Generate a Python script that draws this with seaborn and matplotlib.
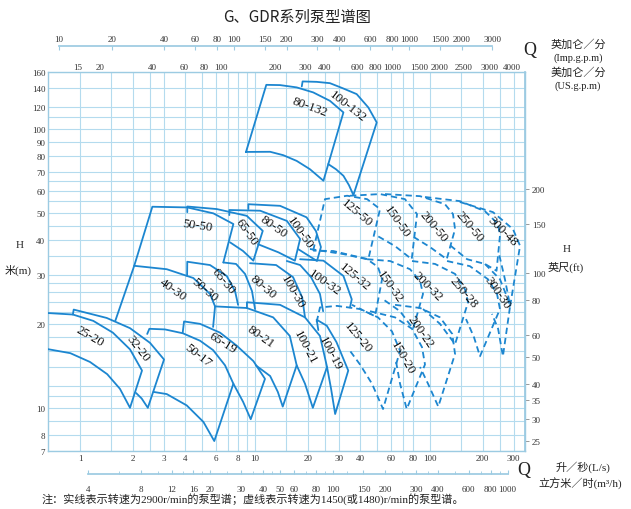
"""
G、GDR pump family chart (2900 rpm solid, 1450 rpm dashed)
Log-log H vs Q with the extra flow / head scales drawn as secondary axes.
"""

import pandas as pd
import matplotlib.pyplot as plt
import seaborn as sns
from matplotlib.ticker import FixedLocator, NullLocator, FuncFormatter, NullFormatter, FixedFormatter

# ---------------- axis scales ----------------
h_ticks = [7, 8, 10, 20, 30, 40, 50, 60, 70, 80, 90, 100, 120, 140, 160]
h_grid = [7, 8, 9, 10, 11, 12, 14, 16, 18, 20, 22, 24, 26, 28, 30, 35, 40, 45,
          50, 55, 60, 65, 70, 80, 90, 100, 110, 120, 140, 160]
q_ls_ticks = [1, 2, 3, 4, 6, 8, 10, 20, 30, 40, 60, 80, 100, 200, 300]
q_grid = [1, 1.5, 2, 2.5, 3, 4, 5, 6, 7, 8, 9, 10, 15, 20, 25, 30, 40, 50, 60,
          70, 80, 100, 150, 200, 250, 300]
q_m3h_ticks = [4, 8, 12, 16, 20, 30, 40, 50, 60, 80, 100, 150, 200, 300, 400,
               600, 800, 1000]
q_m3h_minor = [6, 10, 14, 18, 25, 35, 45, 70, 90, 120, 250, 350, 500, 700, 900]
q_imp_ticks = [10, 20, 40, 60, 80, 100, 150, 200, 300, 400, 600, 800, 1000,
               1500, 2000, 3000]
# US gallon row: labels and where the chart prints them (in L/s)
us_labels = ['15', '20', '40', '60', '80', '100', '200', '300', '400', '600', '800',
             '1000', '1500', '2000', '2500', '3000', '4000']
us_label_at_ls = [0.974, 1.30, 2.58, 3.93, 5.11, 6.39, 13.0, 19.3, 25.1, 38.3, 48.5,
                  60.6, 86.5, 114, 156.4, 220, 294]
h_ft_ticks = [25, 30, 35, 40, 50, 60, 80, 100, 150, 200]

# ---------------- pump outlines (Q in L/s, H in m) ----------------
# 2900 r/min
P_25_20 = [(0.63, 21.9), (0.91, 21.6), (1.19, 20.5), (1.54, 18.6), (1.93, 16.2), (2.26, 13.6),
           (1.93, 10.0), (1.69, 11.7), (1.43, 13.2), (1.14, 14.6), (0.88, 15.7), (0.63, 16.3)]
P_32_20 = [(0.91, 21.6), (0.92, 22.5), (1.42, 21.0), (1.93, 19.3), (2.51, 17.1), (3.02, 14.9),
           (2.44, 10.0), (2.25, 10.8), (2.09, 11.3)]
P_50_17 = [(2.42, 18.4), (2.49, 19.2), (3.06, 19.1), (3.87, 18.5), (4.85, 17.4), (5.76, 16.1),
           (6.74, 14.2), (7.52, 12.2), (5.85, 7.6), (5.07, 8.9), (4.07, 10.2), (3.13, 11.2), (2.63, 11.4)]
P_65_19 = [(3.86, 18.6), (3.93, 20.4), (4.85, 20.0), (6.31, 18.6), (7.86, 16.7), (9.79, 14.7),
           (11.4, 12.7), (9.45, 9.1), (8.55, 10.5), (7.52, 12.2)]
P_80_21 = [(5.76, 19.5), (5.91, 23.1), (8.97, 22.8), (12.7, 21.1), (15.8, 18.1), (17.3, 14.2),
           (14.4, 10.1), (13.5, 11.4), (12.2, 13.0), (10.1, 14.2)]
P_100_21 = [(8.99, 22.8), (8.99, 23.9), (13.9, 23.4), (19.3, 21.1), (23.5, 18.1), (25.8, 14.0),
            (21.4, 10.0), (19.3, 12.2), (17.3, 14.2)]
P_100_19 = [(23.0, 19.0), (22.5, 20.7), (25.7, 19.7), (29.2, 17.2), (34.1, 13.6), (28.7, 9.5),
            (27.2, 11.7), (25.8, 14.0)]
P_40_30 = [(2.04, 32.3), (3.13, 31.4), (4.44, 29.2), (5.53, 25.6), (5.91, 23.1)]
P_50_30 = [(4.09, 29.7), (4.10, 33.4), (5.53, 32.5), (6.89, 29.7), (7.69, 26.2), (8.0, 23.4)]
P_65_30 = [(6.59, 33.2), (7.79, 32.8), (8.77, 30.2), (9.61, 26.2), (10.0, 22.6)]
P_80_30 = [(9.36, 33.0), (13.2, 32.5), (16.5, 29.4), (18.6, 24.9), (19.3, 21.1)]
P_100_30 = [(15.2, 33.6), (18.1, 32.5), (20.9, 29.4), (23.5, 25.6), (24.5, 22.2)]
P_100_32 = [(18.1, 34.1), (24.6, 33.7), (32.0, 29.7), (35.7, 24.5), (34.9, 22.9)]
P_50_50 = [(1.59, 20.5), (2.04, 32.3), (2.59, 52.6), (4.10, 52.3), (5.78, 49.8), (7.52, 45.6),
           (6.59, 33.2)]
P_65_50 = [(4.10, 50.3), (4.10, 52.7), (6.04, 51.6), (8.97, 48.8), (11.07, 43.1), (9.78, 33.7),
           (8.54, 36.5), (7.20, 39.2)]
P_80_50 = [(7.13, 49.1), (7.13, 51.2), (10.7, 50.9), (15.2, 46.8), (18.1, 40.3), (16.9, 33.7),
           (13.6, 36.1), (10.4, 38.6)]
P_100_50 = [(9.16, 51.6), (9.16, 53.7), (13.9, 53.0), (19.7, 48.2), (22.3, 43.0), (23.8, 37.7),
            (22.6, 33.6), (17.6, 37.1)]
P_80_132 = [(8.88, 82.7), (11.6, 143.9), (13.9, 143.6), (17.3, 140.9), (21.5, 135.2), (26.8, 126.1),
            (32.0, 114.6), (24.6, 65.2), (20.6, 71.7), (17.3, 76.8), (14.5, 80.5), (12.2, 82.8),
            (8.88, 82.7)]
P_100_132 = [(18.5, 142.0), (18.7, 148.0), (22.5, 147.5), (26.8, 145.9), (32.0, 139.6),
             (38.1, 133.3), (44.4, 119.4), (49.6, 105.5), (36.5, 57.9), (34.4, 62.9),
             (32.0, 67.9), (29.0, 71.7), (26.2, 74.8)]

# 1450 r/min
P_125_50 = [(21.5, 36.6), (25.1, 56.0), (33.6, 57.6), (43.7, 56.0), (51.8, 51.6), (44.4, 34.1),
            (34.9, 35.3), (28.0, 36.5), (21.5, 36.6)]
P_150_50 = [(34.9, 57.6), (51.8, 58.4), (71.9, 56.0), (84.3, 49.5), (78.6, 34.1), (63.1, 38.0),
            (47.9, 42.0)]
P_200_50 = [(55.3, 58.4), (87.7, 57.4), (121.8, 53.7), (135.3, 49.5), (139.0, 43.7), (124.6, 34.1),
            (100.0, 37.7), (81.0, 40.9)]
P_250_50 = [(93.6, 57.0), (148, 55.1), (206, 50.7), (245, 45.6), (251, 41.4), (240, 31.0),
            (206, 32.8), (163, 34.1), (128, 38.6)]
P_300_48 = [(148, 54.7), (229, 50.3), (298, 43.7), (327, 38.1), (287, 23.2), (268, 28.9),
            (248, 35.6)]
P_125_32 = [(20.6, 37.1), (31.8, 35.6), (43.7, 34.1), (50.4, 32.0), (53.2, 28.9), (48.5, 21.3),
            (42.5, 22.2), (35.8, 23.4)]
P_150_32 = [(43.7, 34.1), (59.1, 33.6), (76.9, 31.4), (87.7, 28.5), (91.2, 25.6), (80.0, 19.2),
            (67.4, 22.2), (53.9, 24.5)]
P_200_32 = [(78.9, 33.6), (106.8, 32.8), (139.0, 30.2), (158.5, 26.6), (164.9, 23.9), (139.0, 16.9),
            (114, 20.0), (91.2, 22.6)]
P_250_28 = [(125.1, 33.6), (169, 32.2), (214.5, 28.9), (241.5, 25.6), (251, 22.6), (193, 15.3),
            (178.4, 17.9), (160.6, 20.8)]
P_300_30 = [(206, 32.8), (251, 28.9), (279, 24.5), (287, 23.2), (261, 15.3), (245, 19.2),
            (226, 21.7)]
P_125_20 = [(22.5, 20.3), (23.5, 22.9), (29.4, 23.2), (39.8, 22.6), (50.4, 21.1), (60.6, 18.8),
            (67.4, 16.0), (53.9, 9.9), (46.6, 12.2), (39.8, 14.3), (34.9, 16.0)]
P_150_20 = [(45.4, 22.2), (63.1, 21.1), (78.9, 19.2), (90.0, 16.5), (93.6, 14.3), (73.6, 9.9),
            (67.4, 12.2), (63.9, 14.7)]
P_200_22 = [(63.1, 23.4), (87.7, 22.8), (114, 21.1), (134, 18.4), (139, 15.6), (111.5, 10.1),
            (97.4, 12.2), (87.7, 14.0)]

# model name, outline, label Q, label H, label angle
pumps_2900 = [
    ('25-20', P_25_20, 1.14, 18.1, -30), ('32-20', P_32_20, 2.14, 16.4, -52),
    ('50-17', P_50_17, 4.72, 15.5, -38), ('65-19', P_65_19, 6.56, 17.2, -32),
    ('80-21', P_80_21, 10.7, 18.1, -35), ('100-21', P_100_21, 19.3, 16.6, -62),
    ('100-19', P_100_19, 26.8, 15.8, -62), ('40-30', P_40_30, 3.40, 26.6, -35),
    ('50-30', P_50_30, 5.18, 26.6, -40), ('65-30', P_65_30, 6.56, 28.5, -50),
    ('80-30', P_80_30, 11.1, 27.3, -40), ('100-30', P_100_30, 16.5, 26.2, -60),
    ('100-32', P_100_32, 25.1, 28.2, -35), ('50-50', P_50_50, 4.72, 45.2, -8),
    ('65-50', P_65_50, 9.0, 43.0, -55), ('80-50', P_80_50, 12.7, 44.8, -35),
    ('100-50', P_100_50, 18.1, 42.7, -55), ('80-132', P_80_132, 20.6, 120.7, -20),
    ('100-132', P_100_132, 34.0, 120.7, -38),
]
pumps_1450 = [
    ('125-50', P_125_50, 38.3, 50.3, -40), ('150-50', P_150_50, 64.8, 46.7, -55),
    ('200-50', P_200_50, 104, 44.8, -50), ('250-50', P_250_50, 169, 44.8, -50),
    ('300-48', P_300_48, 261, 43.0, -45), ('125-32', P_125_32, 37.3, 29.7, -40),
    ('150-32', P_150_32, 59.1, 27.3, -55), ('200-32', P_200_32, 96.1, 27.3, -45),
    ('250-28', P_250_28, 154.4, 26.0, -50), ('300-30', P_300_30, 241, 26.0, -55),
    ('125-20', P_125_20, 38.8, 17.9, -50), ('150-20', P_150_20, 70.1, 15.2, -60),
    ('200-22', P_200_22, 87.7, 18.8, -55),
]

LS_TO_M3H = 3.6
LS_TO_IMP = 13.198
M_TO_FT = 3.2808

BLUE = '#1c86d0'
GRID = '#b4dbee'
SPINE = '#9ccbe2'
TXT = '#333333'
TICK_FS = 6.5

sns.set_theme(style='white')
plt.rcParams['font.family'] = ['Liberation Serif', 'Noto Sans CJK SC', 'DejaVu Sans']
plt.rcParams['axes.unicode_minus'] = False

rows = []
for speed, group in (('2900', pumps_2900), ('1450', pumps_1450)):
    for name, pts, _, _, _ in group:
        for i, (q, h) in enumerate(pts):
            rows.append({'pump': name, 'speed': speed, 'order': i, 'Q': q, 'H': h})
curves = pd.DataFrame(rows)

fig = plt.figure(figsize=(6.31, 5.10), dpi=100)
ax = fig.add_axes([48 / 631, 58 / 510, 477 / 631, 379 / 510])
ax.set_xscale('log')
ax.set_yscale('log')
ax.set_xlim(0.656, 349)
ax.set_ylim(7, 160)

for h in h_grid:
    ax.axhline(h, color=GRID, lw=0.8, zorder=0)
for q in q_grid:
    ax.axvline(q, color=GRID, lw=0.8, zorder=0)

sns.lineplot(data=curves, x='Q', y='H', units='pump', estimator=None, sort=False,
             style='speed', dashes={'2900': '', '1450': (3.5, 2.2)},
             color=BLUE, lw=1.3, legend=False, ax=ax, zorder=3)

for name, _, q, h, ang in pumps_2900 + pumps_1450:
    ax.text(q, h, name, rotation=ang, ha='center', va='center', rotation_mode='anchor',
            fontsize=9.3, color='#111111', zorder=4)

fmt = FuncFormatter(lambda v, p: f'{v:g}')

# main axes: H (m) left, L/s bottom
ax.yaxis.set_major_locator(FixedLocator(h_ticks))
ax.yaxis.set_major_formatter(fmt)
ax.yaxis.set_minor_locator(NullLocator())
ax.xaxis.set_major_locator(FixedLocator(q_ls_ticks))
ax.xaxis.set_major_formatter(fmt)
ax.xaxis.set_minor_locator(NullLocator())
ax.tick_params(axis='both', length=0, labelsize=TICK_FS, colors=TXT, pad=2)
ax.set_xlabel('')
ax.set_ylabel('')
for sp in ax.spines.values():
    sp.set_color(SPINE)
    sp.set_linewidth(1.0)

# US gallons per minute row, just above the plot
sec_us = ax.secondary_xaxis('top')
sec_us.xaxis.set_major_locator(FixedLocator(us_label_at_ls))
sec_us.xaxis.set_major_formatter(FixedFormatter(us_labels))
sec_us.xaxis.set_minor_locator(NullLocator())
sec_us.tick_params(length=0, labelsize=TICK_FS, colors=TXT, pad=1)
sec_us.spines['top'].set_visible(False)

# Imperial gallons per minute on its own line
sec_imp = ax.secondary_xaxis(1.0686, functions=(lambda q: q * LS_TO_IMP, lambda g: g / LS_TO_IMP))
sec_imp.xaxis.set_major_locator(FixedLocator(q_imp_ticks))
sec_imp.xaxis.set_major_formatter(fmt)
sec_imp.xaxis.set_minor_locator(NullLocator())
sec_imp.tick_params(direction='in', length=3, width=0.8, color=SPINE, labelsize=TICK_FS,
                    labelcolor=TXT, pad=2)
sec_imp.spines['top'].set_bounds(q_imp_ticks[0], q_imp_ticks[-1])
sec_imp.spines['top'].set_color(SPINE)

# cubic metres per hour below
sec_m3 = ax.secondary_xaxis(-0.0607, functions=(lambda q: q * LS_TO_M3H, lambda m: m / LS_TO_M3H))
sec_m3.xaxis.set_major_locator(FixedLocator(q_m3h_ticks))
sec_m3.xaxis.set_minor_locator(FixedLocator(q_m3h_minor))
sec_m3.xaxis.set_major_formatter(fmt)
sec_m3.xaxis.set_minor_formatter(NullFormatter())
sec_m3.tick_params(which='major', direction='in', length=3, width=0.8, color=SPINE,
                   labelsize=TICK_FS, labelcolor=TXT, pad=8)
sec_m3.tick_params(which='minor', direction='in', length=2, width=0.6, color=SPINE)
sec_m3.spines['bottom'].set_bounds(q_m3h_ticks[0], q_m3h_ticks[-1])
sec_m3.spines['bottom'].set_color(SPINE)

# head in feet on the right
sec_ft = ax.secondary_yaxis('right', functions=(lambda h: h * M_TO_FT, lambda f: f / M_TO_FT))
sec_ft.yaxis.set_major_locator(FixedLocator(h_ft_ticks))
sec_ft.yaxis.set_major_formatter(fmt)
sec_ft.yaxis.set_minor_locator(NullLocator())
sec_ft.yaxis.set_minor_formatter(NullFormatter())
sec_ft.tick_params(direction='out', length=3, width=0.6, color='#888888', labelsize=TICK_FS,
                   labelcolor=TXT, pad=2)
sec_ft.spines['right'].set_color(SPINE)

cjk = ['Noto Sans CJK SC', 'DejaVu Sans']
serif = ['Liberation Serif', 'Noto Sans CJK SC']
ink = '#222222'
fig.text(297 / 631, 1 - 17 / 510, 'G、GDR系列泵型谱图', ha='center', va='center',
         fontsize=11, family=cjk, color=ink)
fig.text(530 / 631, 1 - 50 / 510, 'Q', ha='center', va='center', fontsize=13, family=serif, color=ink)
fig.text(578 / 631, 1 - 45 / 510, '英加仑／分', ha='center', va='center', fontsize=8, family=cjk, color=ink)
fig.text(578 / 631, 1 - 58 / 510, '(Imp.g.p.m)', ha='center', va='center', fontsize=7.5, family=serif, color=ink)
fig.text(578 / 631, 1 - 73 / 510, '美加仑／分', ha='center', va='center', fontsize=8, family=cjk, color=ink)
fig.text(578 / 631, 1 - 86 / 510, '(US.g.p.m)', ha='center', va='center', fontsize=7.5, family=serif, color=ink)
fig.text(20 / 631, 1 - 245 / 510, 'H', ha='center', va='center', fontsize=8, family=serif, color=ink)
fig.text(18 / 631, 1 - 270 / 510, '米(m)', ha='center', va='center', fontsize=8, family=serif, color=ink)
fig.text(567 / 631, 1 - 249 / 510, 'H', ha='center', va='center', fontsize=8, family=serif, color=ink)
fig.text(566 / 631, 1 - 267 / 510, '英尺(ft)', ha='center', va='center', fontsize=8, family=serif, color=ink)
fig.text(524 / 631, 1 - 471 / 510, 'Q', ha='center', va='center', fontsize=13, family=serif, color=ink)
fig.text(583 / 631, 1 - 467 / 510, '升／秒(L/s)', ha='center', va='center', fontsize=8, family=serif, color=ink)
fig.text(580 / 631, 1 - 484 / 510, '立方米／时(m³/h)', ha='center', va='center', fontsize=8, family=serif, color=ink)
fig.text(42 / 631, 1 - 499 / 510,
         '注：实线表示转速为2900r/min的泵型谱；虚线表示转速为1450(或1480)r/min的泵型谱。',
         ha='left', va='center', fontsize=8, family=serif, color=ink)

fig.savefig('out.png', dpi=100, facecolor='white')
